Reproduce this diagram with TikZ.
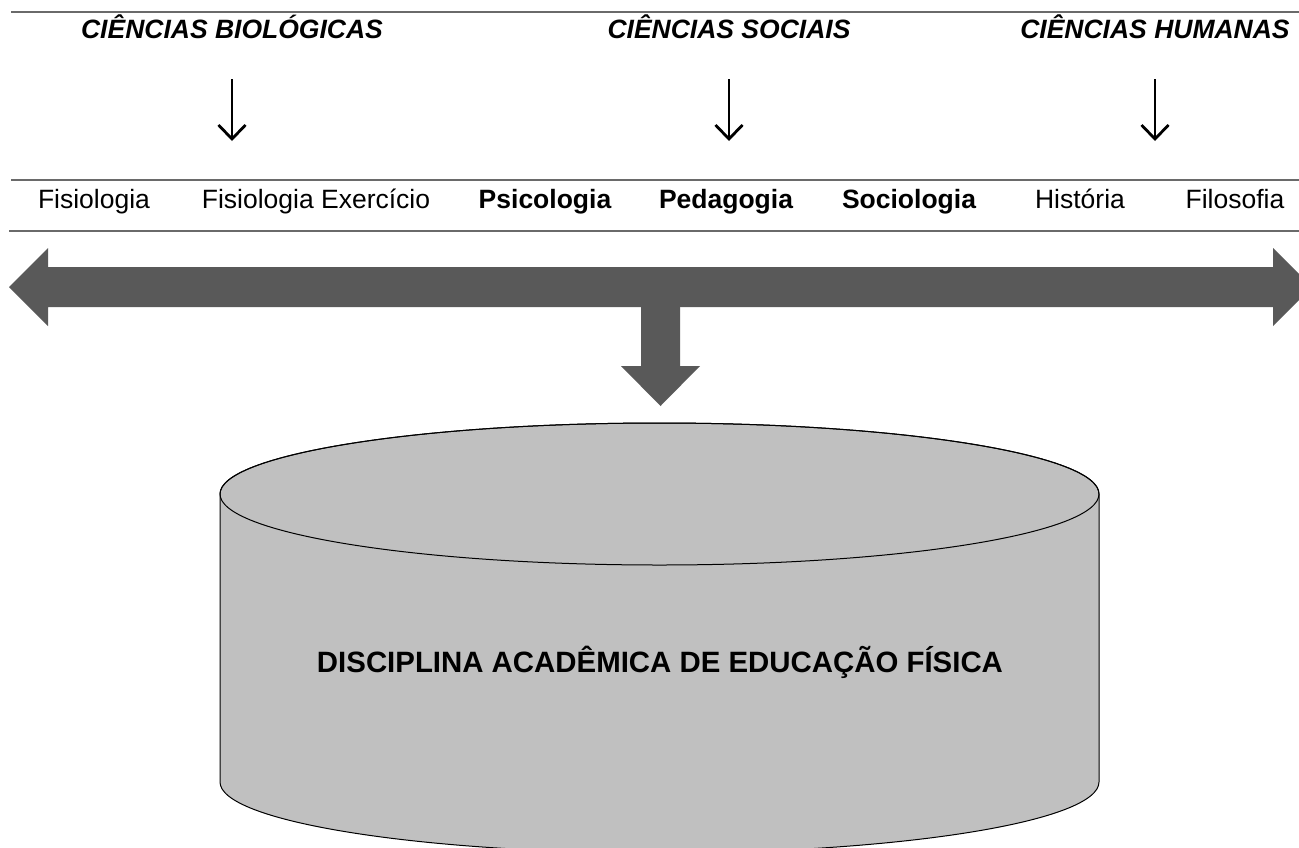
\documentclass[tikz,border=0pt]{standalone}
\usepackage{fontspec}
\setmainfont{Liberation Sans}
\usetikzlibrary{arrows.meta}
\definecolor{rulegray}{HTML}{6A6A6A}
\definecolor{bigarrow}{HTML}{595959}
\definecolor{cylfill}{HTML}{C0C0C0}
\tikzset{
  hdr/.style={font=\fontsize{26.5}{30}\selectfont\bfseries\itshape, inner sep=0pt, anchor=base},
  lbl/.style={font=\fontsize{26.5}{30}\selectfont, inner sep=0pt, anchor=base},
  lblb/.style={font=\fontsize{26.5}{30}\selectfont\bfseries, inner sep=0pt, anchor=base},
  rule/.style={draw=rulegray, line width=2.2pt},
  thinarrow/.style={line width=2.8pt, -{Straight Barb[length=14pt,width=27pt,line width=2.8pt]}},
  fat/.style={fill=bigarrow, draw=none},
}
\begin{document}
\begin{tikzpicture}[x=1pt,y=-1pt]
\useasboundingbox (0,0) rectangle (1299,847);
\clip (0,0) rectangle (1299,847);
% rules
\draw[rule] (11,12) -- (1299,12);
\draw[rule] (11,180) -- (1299,180);
\draw[rule] (9,231) -- (1299,231);
% headers
\node[hdr] (bio) at (232,38.5) {CIÊNCIAS BIOLÓGICAS};
\node[hdr] (soc) at (729,38.5) {CIÊNCIAS SOCIAIS};
\node[hdr] (hum) at (1155,38.5) {CIÊNCIAS HUMANAS};
\coordinate (bioE) at (232,141);
\coordinate (socE) at (729,141);
\coordinate (humE) at (1155,141);
\draw[thinarrow] (232,79) -- (bioE);
\draw[thinarrow] (729,79) -- (socE);
\draw[thinarrow] (1155,79) -- (humE);
% labels
\node[lbl] (f1) at (94,208.5) {Fisiologia};
\node[lbl] (f2) at (316,208.5) {Fisiologia Exercício};
\node[lblb] (psi) at (545,208.5) {Psicologia};
\node[lblb] (ped) at (726,208.5) {Pedagogia};
\node[lblb] (so) at (909,208.5) {Sociologia};
\node[lbl] (hi) at (1080,208.5) {História};
\node[lbl] (fi) at (1235,208.5) {Filosofia};
% big double arrow
\fill[fat] (9,287) -- (48,248) -- (48,267) -- (1273,267) -- (1273,248) -- (1312,287)
  -- (1273,326) -- (1273,307) -- (48,307) -- (48,326) -- cycle;
\fill[fat] (641,300) -- (641,366) -- (621,366) -- (660.5,406) -- (700,366) -- (680,366) -- (680,300) -- cycle;
% cylinder
\filldraw[fill=cylfill, draw=black, line width=1pt]
  (220,494) -- (220,782) arc[start angle=180,end angle=360,x radius=439.5pt,y radius=71pt]
  -- (1099,494) arc[start angle=0,end angle=180,x radius=439.5pt,y radius=71pt] -- cycle;
\draw[line width=1pt] (659.5,494) ellipse [x radius=439.5pt, y radius=71pt];
\node[lblb, font=\fontsize{29.4}{33}\selectfont\bfseries] (disc) at (660,672) {DISCIPLINA ACADÊMICA DE EDUCAÇÃO FÍSICA};
\end{tikzpicture}
\end{document}
